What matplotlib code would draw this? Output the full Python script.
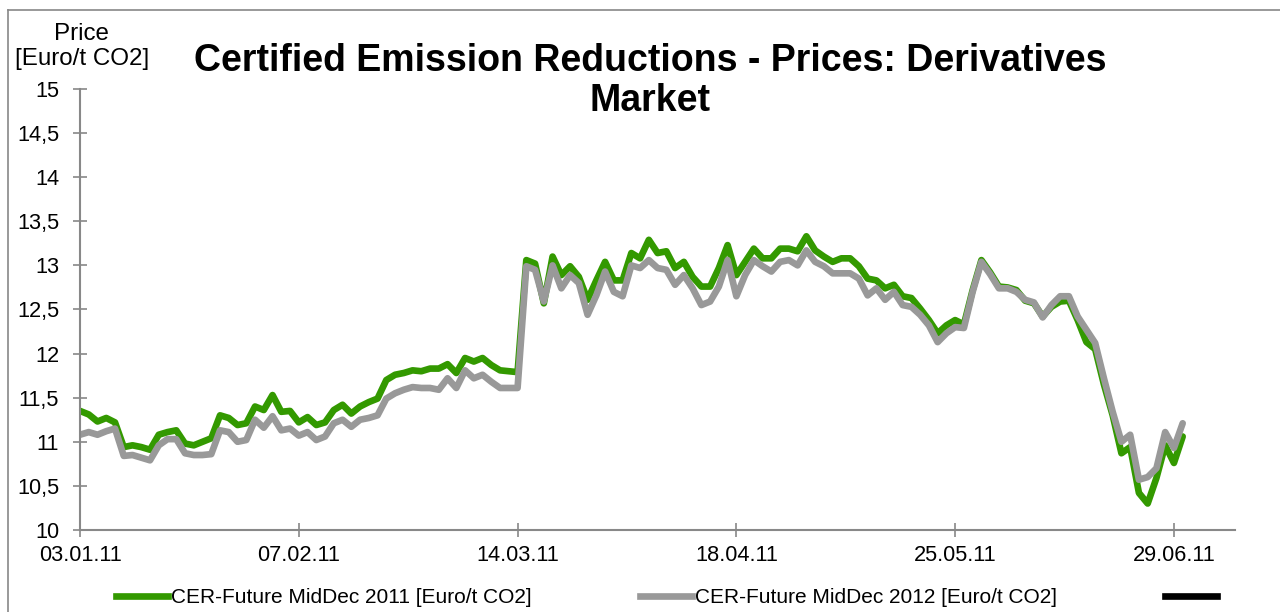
import matplotlib
matplotlib.use("Agg")
import matplotlib.pyplot as plt
from matplotlib.lines import Line2D
from matplotlib.ticker import FuncFormatter

plt.rcParams['font.family'] = ['Liberation Sans', 'DejaVu Sans']

# CER-Future MidDec 2011, one value per trading day from 03.01.11
cer_2011 = [
    11.35, 11.31, 11.23, 11.27, 11.22, 10.94, 10.96, 10.94, 10.91, 11.08,
    11.11, 11.13, 10.98, 10.96, 11.00, 11.04, 11.30, 11.27, 11.19, 11.21,
    11.40, 11.36, 11.53, 11.34, 11.35, 11.22, 11.28, 11.19, 11.22, 11.36,
    11.42, 11.32, 11.40, 11.45, 11.49, 11.70, 11.76, 11.78, 11.81, 11.80,
    11.83, 11.83, 11.88, 11.78, 11.95, 11.91, 11.95, 11.87, 11.81, 11.80,
    11.79,
    13.06, 13.02, 12.57, 13.10, 12.89, 12.99, 12.87, 12.61, 12.83, 13.04,
    12.83, 12.83, 13.14, 13.08, 13.29, 13.14, 13.16, 12.97, 13.04, 12.87,
    12.76, 12.76, 12.97, 13.23,
    12.89, 13.04, 13.19, 13.08, 13.08, 13.19, 13.19, 13.16, 13.33, 13.17,
    13.10, 13.04, 13.08, 13.08, 12.99, 12.85, 12.83, 12.74, 12.78, 12.65,
    12.63, 12.51, 12.38, 12.23, 12.32, 12.38,
    12.33, 12.72, 13.06, 12.92, 12.76, 12.75, 12.72, 12.60, 12.57, 12.42,
    12.53, 12.59, 12.60, 12.38, 12.13, 12.05, 11.65, 11.30, 10.87, 10.94,
    10.42, 10.30, 10.59, 10.96, 10.76, 11.06,
]

# CER-Future MidDec 2012
cer_2012 = [
    11.08, 11.11, 11.08, 11.12, 11.15, 10.84, 10.85, 10.82, 10.79, 10.96,
    11.03, 11.03, 10.87, 10.85, 10.85, 10.86, 11.13, 11.11, 11.00, 11.02,
    11.25, 11.16, 11.29, 11.13, 11.15, 11.07, 11.11, 11.02, 11.06, 11.21,
    11.25, 11.17, 11.25, 11.27, 11.30, 11.49, 11.55, 11.59, 11.62, 11.61,
    11.61, 11.59, 11.72, 11.61, 11.81, 11.72, 11.76, 11.68, 11.61, 11.61,
    11.61,
    12.99, 12.95, 12.59, 13.00, 12.74, 12.89, 12.80, 12.44, 12.66, 12.93,
    12.70, 12.65, 13.00, 12.97, 13.06, 12.97, 12.95, 12.78, 12.89, 12.74,
    12.55, 12.59, 12.76, 13.06,
    12.65, 12.89, 13.06, 12.99, 12.93, 13.04, 13.06, 13.00, 13.17, 13.04,
    12.99, 12.91, 12.91, 12.91, 12.85, 12.66, 12.74, 12.61, 12.70, 12.55,
    12.53, 12.44, 12.32, 12.13, 12.23, 12.30,
    12.29, 12.70, 13.04, 12.90, 12.74, 12.74, 12.70, 12.61, 12.58, 12.41,
    12.55, 12.65, 12.65, 12.42, 12.27, 12.12, 11.72, 11.34, 11.00, 11.08,
    10.57, 10.60, 10.70, 11.11, 10.93, 11.21,
]

date_labels = ["03.01.11", "07.02.11", "14.03.11", "18.04.11", "25.05.11", "29.06.11"]
label_step = 25  # trading days between labels

series_names = ["CER-Future MidDec 2011 [Euro/t CO2]",
                "CER-Future MidDec 2012 [Euro/t CO2]", ""]
green = "#339900"
grey = "#999999"
axis_col = "#888888"

fig = plt.figure(figsize=(12.8, 6.12), dpi=100)
ax = fig.add_axes([0.0625, 0.134, 0.9025, 0.7206])

x = range(len(cer_2011))
ax.plot(x, cer_2011, color=green, lw=4.8, solid_joinstyle='round', solid_capstyle='round')
ax.plot(x, cer_2012, color=grey, lw=4.8, solid_joinstyle='round', solid_capstyle='round')

ax.set_xlim(0, 132)
ax.set_ylim(10, 15)
ax.set_xticks([i * label_step for i in range(len(date_labels))])
ax.set_xticklabels(date_labels)
ax.set_yticks([10 + 0.5 * i for i in range(11)])
ax.yaxis.set_major_formatter(FuncFormatter(lambda v, p: ("%g" % v).replace(".", ",")))

for s in ["top", "right"]:
    ax.spines[s].set_visible(False)
for s in ["left", "bottom"]:
    ax.spines[s].set_color(axis_col)
    ax.spines[s].set_linewidth(1.5)
ax.tick_params(axis="both", direction="inout", length=10, width=1.2, color=axis_col,
               labelsize=15.7)
ax.tick_params(axis="y", pad=10)
ax.tick_params(axis="x", pad=6)

fig.text(0.508, 0.868, "Certified Emission Reductions - Prices: Derivatives\nMarket",
         ha="center", va="center", fontsize=27, fontweight="bold", linespacing=1.15)
fig.text(0.064, 0.924, "Price\n[Euro/t CO2]", ha="center", va="center", fontsize=17.4,
         linespacing=1.2)

# chart border (top and left edges)
fig.add_artist(Line2D([8 / 1280, 1], [1 - 10 / 612, 1 - 10 / 612], color=axis_col, lw=1.2))
fig.add_artist(Line2D([8 / 1280, 8 / 1280], [0, 1 - 10 / 612], color=axis_col, lw=1.2))

handles = [Line2D([], [], color=green, lw=4.8),
           Line2D([], [], color=grey, lw=4.8),
           Line2D([], [], color="black", lw=4.8)]
fig.legend(handles, series_names, loc="center", bbox_to_anchor=(0.522, 0.023), ncol=3,
           frameon=False, fontsize=15, handlelength=2.5, handletextpad=0.15,
           columnspacing=5.2)

fig.savefig("out.png", dpi=100)
